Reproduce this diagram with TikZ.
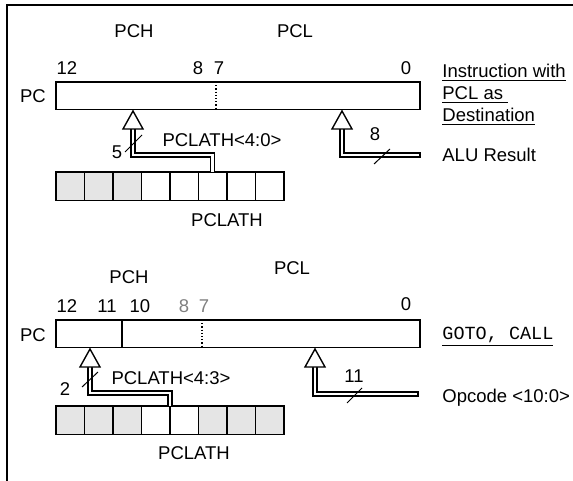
\documentclass[tikz,border=0pt]{standalone}
\usepackage{fontspec}
\setmainfont{Liberation Sans}
\setmonofont{Liberation Mono}
\usepackage{tikz}
\tikzset{
    every node/.style={font=\fontsize{9.25}{11}\selectfont, inner sep=0pt},
    reg/.style={draw, fill=white, line width=0.9pt, anchor=north west, minimum width=182pt, minimum height=13.75pt, outer sep=0pt},
    cell/.style={draw, line width=0.9pt, anchor=north west, minimum width=14.25pt, minimum height=14.25pt, outer sep=0pt},
    bus/.style={double, double distance=1.3pt, line width=0.7pt, line join=miter},
    buscap/.style={line width=0.7pt},
    hollow/.style={draw, fill=white, line width=0.7pt, line join=miter},
    tick/.style={line width=0.5pt}
}

\begin{document}
\begin{tikzpicture}[x=0.5pt, y=-0.5pt]
    \useasboundingbox (0,0) rectangle (573,481);

    % Frame
    \draw[line width=0.75pt] (7,481) -- (7,5) -- (573,5);

    % Upper case: PCL as destination
    \node (pchA) at (134,31) {PCH};
    \node (pclA) at (295,31) {PCL};
    \node at (67,68) {12};
    \node at (198,68) {8};
    \node at (219,68) {7};
    \node at (406,68) {0};
    \node (pcLabA) at (33,96) {PC};

    \node[reg] (pcA) at (56,82) {};
    \draw[line width=0.6pt, densely dotted] (216,82) -- (216,109);

    \foreach \i/\f in {1/gray!20, 2/gray!20, 3/gray!20, 4/white, 5/white, 6/white, 7/white, 8/white}
        \node[cell, fill=\f] (la\i) at ({56+28.5*(\i-1)},172) {};

    \coordinate (baseA) at (133,129);
    \coordinate (tipA) at (133,111);
    \coordinate (baseB) at (342,129);
    \coordinate (tipB) at (342,111);
    \coordinate (aluIn) at (420,155);

    \draw[bus] (la6.north) -- ++(0,-17) -| (baseA);
    \draw[bus] (aluIn) -| (baseB);
    \draw[buscap] (aluIn) ++(0,-2.7) -- ++(0,5.4);
    \draw[hollow] (tipA) -- ++(-10,18) -- ++(20,0) -- cycle;
    \draw[hollow] (tipB) -- ++(-10,18) -- ++(20,0) -- cycle;

    \draw[tick] (125,152) -- (142,135);
    \draw[tick] (374,164) -- (390,149);
    \node at (117,152) {5};
    \node at (375,134) {8};
    \node at (222,140) {PCLATH<4:0>};
    \node (lathLabA) at (227,220) {PCLATH};

    \node[anchor=west, align=left] (dest) at (442,95)
        {\underline{Instruction with}\\\underline{PCL as\ }\\\underline{Destination}};
    \node[anchor=west] (alu) at (442,155) {ALU Result};

    % Lower case: GOTO, CALL
    \node (pchB) at (129,277) {PCH};
    \node (pclB) at (292,268) {PCL};
    \node at (67,306) {12};
    \node at (107,306) {11};
    \node at (140,306) {10};
    \node[text=gray] at (184,306) {8};
    \node[text=gray] at (204,306) {7};
    \node at (406,304) {0};
    \node (pcLabB) at (33,335) {PC};

    \node[reg] (pcB) at (56,320) {};
    \draw[line width=0.9pt] (122,320) -- (122,348);
    \draw[line width=0.6pt, densely dotted] (202,320) -- (202,348);

    \foreach \i/\f in {1/gray!20, 2/gray!20, 3/gray!20, 4/white, 5/white, 6/gray!20, 7/gray!20, 8/gray!20}
        \node[cell, fill=\f] (lb\i) at ({56+28.5*(\i-1)},406) {};

    \coordinate (baseC) at (90,367);
    \coordinate (tipC) at (90,349);
    \coordinate (baseD) at (315,367);
    \coordinate (tipD) at (315,349);
    \coordinate (opIn) at (418,394);

    \draw[bus] (lb4.north east) -- ++(0,-13) -| (baseC);
    \draw[bus] (opIn) -| (baseD);
    \draw[buscap] (opIn) ++(0,-2.7) -- ++(0,5.4);
    \draw[hollow] (tipC) -- ++(-10,18) -- ++(20,0) -- cycle;
    \draw[hollow] (tipD) -- ++(-10,18) -- ++(20,0) -- cycle;

    \draw[tick] (82,387) -- (98,372);
    \draw[tick] (347,403) -- (362,388);
    \node at (65,389) {2};
    \node at (354,376) {11};
    \node at (171,378) {PCLATH<4:3>};
    \node (lathLabB) at (194,453) {PCLATH};

    \node[anchor=west] (jump) at (442,337) {\underline{\texttt{GOTO, CALL}}};
    \node[anchor=west] (opc) at (442,398) {Opcode <10:0>};
\end{tikzpicture}
\end{document}
